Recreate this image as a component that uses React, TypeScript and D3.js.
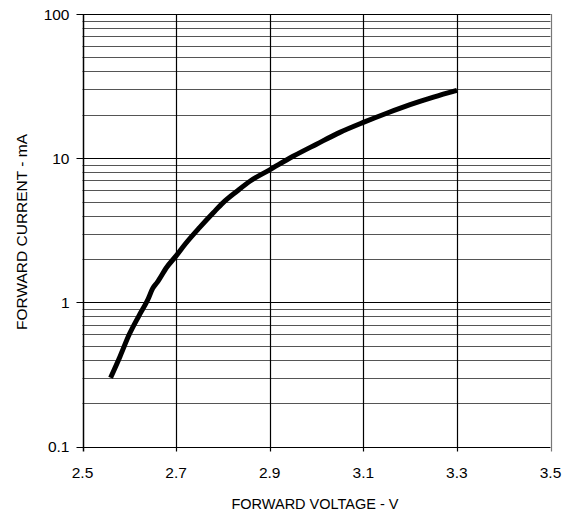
import React, { useEffect, useRef } from 'react'
import * as d3 from 'd3'

// forward voltage (V) vs forward current (mA)
const voltage = [2.56, 2.58, 2.6, 2.62, 2.64, 2.65, 2.66, 2.68, 2.7, 2.72, 2.75, 2.78, 2.8, 2.83, 2.86, 2.9, 2.95, 3.0, 3.05, 3.1, 3.15, 3.2, 3.25, 3.3]
const current = [0.3, 0.42, 0.6, 0.8, 1.05, 1.25, 1.38, 1.75, 2.1, 2.55, 3.3, 4.2, 4.9, 5.9, 7.0, 8.3, 10.3, 12.5, 15.1, 17.7, 20.5, 23.5, 26.5, 29.5]

const xTicks = [2.5, 2.7, 2.9, 3.1, 3.3, 3.5]
const yTicks = [0.1, 1, 10, 100]
const yTickLabels = ['0.1', '1', '10', '100']

const width = 568
const height = 515
const left = 82.5
const right = 550.5
const top = 14
const bottom = 446.5
const font = 'Liberation Sans, Arial, sans-serif'

const App = () => {
  const svgRef = useRef<SVGSVGElement>(null)

  useEffect(() => {
    document.body.style.margin = '0'
    const svg = d3.select(svgRef.current)
    svg.selectAll('*').remove()
    svg.attr('width', width).attr('height', height)

    const x = d3.scaleLinear().domain([2.5, 3.5]).range([left, right])
    const y = d3.scaleLog().domain([0.1, 100]).range([bottom, top])

    // horizontal grid, every 2..9 of each decade
    const gridY: number[] = []
    for (let d = 0.1; d < 100; d *= 10) {
      for (let k = 2; k <= 9; k++) gridY.push(+(d * k).toPrecision(3))
    }
    svg
      .append('g')
      .selectAll('line')
      .data(gridY)
      .enter()
      .append('line')
      .attr('x1', left)
      .attr('x2', right)
      .attr('y1', (d) => Math.round(y(d)) + 0.5)
      .attr('y2', (d) => Math.round(y(d)) + 0.5)
      .attr('stroke', '#555')
      .attr('stroke-width', 1.2)

    svg
      .append('g')
      .selectAll('line')
      .data(yTicks)
      .enter()
      .append('line')
      .attr('x1', left - 6)
      .attr('x2', right)
      .attr('y1', (d) => Math.round(y(d)) + 0.5)
      .attr('y2', (d) => Math.round(y(d)) + 0.5)
      .attr('stroke', '#000')
      .attr('stroke-width', 1.2)

    svg
      .append('g')
      .selectAll('line')
      .data(xTicks)
      .enter()
      .append('line')
      .attr('x1', (d) => Math.round(x(d)) + 0.5)
      .attr('x2', (d) => Math.round(x(d)) + 0.5)
      .attr('y1', top)
      .attr('y2', bottom + 5)
      .attr('stroke', (d, i) => (i === xTicks.length - 1 ? '#777' : '#000'))
      .attr('stroke-width', (d, i) => (i === 0 ? 1.5 : 1.2))

    // tick labels
    svg
      .append('g')
      .selectAll('text')
      .data(yTicks)
      .enter()
      .append('text')
      .attr('x', left - 13)
      .attr('y', (d) => y(d) + 5.5)
      .attr('text-anchor', 'end')
      .attr('font-family', font)
      .attr('font-size', 15.5)
      .text((d, i) => yTickLabels[i])

    svg
      .append('g')
      .selectAll('text')
      .data(xTicks)
      .enter()
      .append('text')
      .attr('x', (d) => x(d))
      .attr('y', 478)
      .attr('text-anchor', 'middle')
      .attr('font-family', font)
      .attr('font-size', 15.5)
      .text((d) => d.toFixed(1))

    // axis titles
    svg
      .append('text')
      .attr('x', 315)
      .attr('y', 509)
      .attr('text-anchor', 'middle')
      .attr('font-family', font)
      .attr('font-size', 14.5)
      .text('FORWARD VOLTAGE - V')

    svg
      .append('text')
      .attr('transform', 'translate(27, 232) rotate(-90)')
      .attr('text-anchor', 'middle')
      .attr('font-family', font)
      .attr('font-size', 15.5)
      .text('FORWARD CURRENT - mA')

    // the curve
    const line = d3
      .line<number>()
      .x((d) => x(d))
      .y((d, i) => y(current[i]))
      .curve(d3.curveMonotoneX)

    svg
      .append('path')
      .datum(voltage)
      .attr('d', line)
      .attr('fill', 'none')
      .attr('stroke', '#000')
      .attr('stroke-width', 5)
      .attr('stroke-linecap', 'butt')
  }, [])

  return <svg ref={svgRef} style={{ display: 'block' }} />
}

export default App
